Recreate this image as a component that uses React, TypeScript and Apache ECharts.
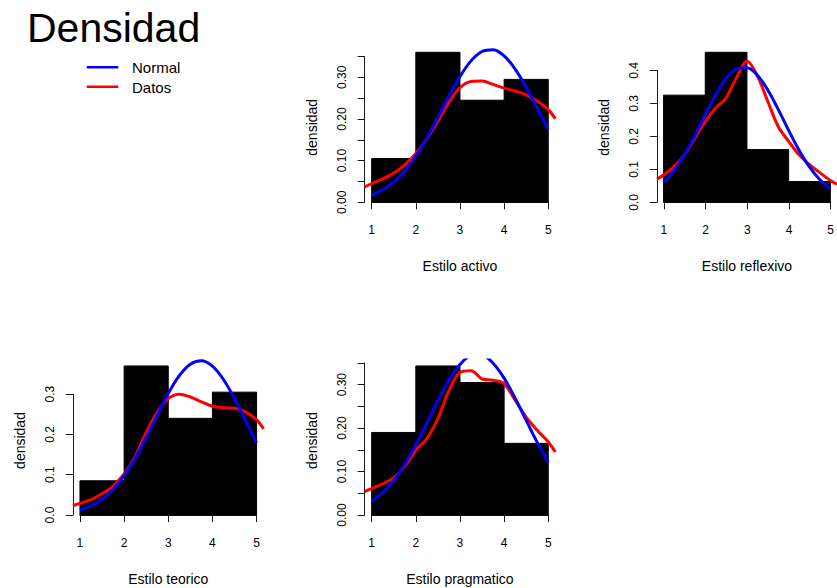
import React, { useEffect, useRef } from "react";
import * as echarts from "echarts";

// ---- data ----
const binEdges = [1, 2, 3, 4, 5];
const xTickLabels = ["1", "2", "3", "4", "5"];

const activoDens = [0.105, 0.36, 0.245, 0.295];
const reflexivoDens = [0.325, 0.455, 0.16, 0.063];
const teoricoDens = [0.085, 0.37, 0.24, 0.305];
const pragmaticoDens = [0.19, 0.343, 0.305, 0.165];

const normalX = [1, 1.25, 1.5, 1.75, 2, 2.25, 2.5, 2.75, 3, 3.25, 3.5, 3.75, 4, 4.25, 4.5, 4.75, 5];
const activoNormal = [0.0176, 0.0301, 0.0491, 0.0759, 0.1112, 0.1545, 0.2036, 0.2545, 0.3018, 0.3394, 0.362, 0.3662, 0.3514, 0.3198, 0.2761, 0.2261, 0.1756];
const reflexivoNormal = [0.0601, 0.0962, 0.1441, 0.2022, 0.2655, 0.3264, 0.3756, 0.4047, 0.4081, 0.3853, 0.3405, 0.2817, 0.2182, 0.1581, 0.1073, 0.0682, 0.0406];
const teoricoNormal = [0.0125, 0.0228, 0.0393, 0.0637, 0.0976, 0.1411, 0.1925, 0.2479, 0.3014, 0.3458, 0.3745, 0.3828, 0.3694, 0.3364, 0.2891, 0.2345, 0.1796];
const pragmaticoNormal = [0.0319, 0.0519, 0.0799, 0.1166, 0.1614, 0.2116, 0.2631, 0.3099, 0.3461, 0.3663, 0.3675, 0.3494, 0.315, 0.269, 0.2178, 0.1672, 0.1216];

const kdeX = [0.84, 1, 1.25, 1.5, 1.75, 2, 2.25, 2.5, 2.75, 3, 3.25, 3.5, 3.75, 4, 4.25, 4.5, 4.75, 5, 5.16];
const activoKde = [0.037, 0.045, 0.056, 0.07, 0.09, 0.117, 0.153, 0.195, 0.24, 0.275, 0.29, 0.291, 0.283, 0.274, 0.267, 0.258, 0.243, 0.222, 0.201];
const reflexivoKde = [0.07, 0.083, 0.108, 0.144, 0.195, 0.245, 0.286, 0.317, 0.378, 0.428, 0.383, 0.306, 0.23, 0.185, 0.144, 0.114, 0.09, 0.066, 0.055];
const teoricoKde = [0.023, 0.029, 0.038, 0.053, 0.072, 0.102, 0.145, 0.205, 0.255, 0.289, 0.3, 0.293, 0.281, 0.27, 0.266, 0.265, 0.256, 0.236, 0.214];
const pragmaticoKde = [0.054, 0.061, 0.072, 0.086, 0.112, 0.149, 0.176, 0.222, 0.286, 0.328, 0.332, 0.313, 0.31, 0.302, 0.264, 0.225, 0.195, 0.168, 0.145];

const activoYLabels = ["0.00", "", "0.10", "", "0.20", "", "0.30", ""];
const reflexivoYLabels = ["0.0", "0.1", "0.2", "0.3", "0.4"];
const teoricoYLabels = ["0.0", "0.1", "0.2", "0.3"];
const pragmaticoYLabels = ["0.00", "", "0.10", "", "0.20", "", "0.30", ""];

const panelNames = ["Estilo activo", "Estilo reflexivo", "Estilo teorico", "Estilo pragmatico"];
const yTitle = "densidad";
const mainTitle = "Densidad";
const legendNames = ["Normal", "Datos"];

// ---- layout ----
const FONT = '"Liberation Sans", Arial, Helvetica, sans-serif';
const pxPerX = 44.15;
const colLefts = [72.9, 364.6, 656.9];
const rowTops = [46.3, 360];
const rowHeights = [162, 161];
const BLUE = "#0000ff";
const RED = "#ff0000";
const AXIS = "#1a1a1a";

const panels = [
  { name: panelNames[0], dens: activoDens, normal: activoNormal, kde: activoKde, yInterval: 0.05, yTickMax: 0.35, yLabels: activoYLabels, row: 0, col: 1 },
  { name: panelNames[1], dens: reflexivoDens, normal: reflexivoNormal, kde: reflexivoKde, yInterval: 0.1, yTickMax: 0.4, yLabels: reflexivoYLabels, row: 0, col: 2 },
  { name: panelNames[2], dens: teoricoDens, normal: teoricoNormal, kde: teoricoKde, yInterval: 0.1, yTickMax: 0.3, yLabels: teoricoYLabels, row: 1, col: 0 },
  { name: panelNames[3], dens: pragmaticoDens, normal: pragmaticoNormal, kde: pragmaticoKde, yInterval: 0.05, yTickMax: 0.35, yLabels: pragmaticoYLabels, row: 1, col: 1 },
];

function buildOption() {
  const grid: any[] = [];
  const xAxis: any[] = [];
  const yAxis: any[] = [];
  const series: any[] = [];
  const hiddenParts = {
    axisLine: { show: false },
    axisTick: { show: false },
    axisLabel: { show: false },
    splitLine: { show: false },
  };
  const nameStyle = { fontFamily: FONT, fontSize: 14, color: "#000" };

  panels.forEach((p, i) => {
    const L = colLefts[p.col];
    const T = rowTops[p.row];
    const Hh = rowHeights[p.row];
    const Wd = 4.32 * pxPerX;
    const ymax = Math.max(...p.dens);
    const yMin = -0.04 * ymax;
    const yMax = 1.04 * ymax;
    const pxPerY = Hh / (yMax - yMin);
    const gData = 2 * i;
    const gAxis = 2 * i + 1;

    grid.push({ left: L, top: T, width: Wd, height: Hh });
    xAxis.push({
      gridIndex: gData, type: "value", min: 0.84, max: 5.16, ...hiddenParts,
      name: p.name, nameLocation: "middle", nameGap: 51, nameTextStyle: nameStyle,
    });
    yAxis.push({
      gridIndex: gData, type: "value", min: yMin, max: yMax, ...hiddenParts,
      name: yTitle, nameLocation: "middle", nameGap: 46, nameTextStyle: nameStyle,
    });

    grid.push({
      left: L + 0.16 * pxPerX,
      top: T + (yMax - p.yTickMax) * pxPerY,
      width: 4 * pxPerX,
      height: p.yTickMax * pxPerY,
    });
    xAxis.push({
      gridIndex: gAxis, type: "value", min: 1, max: 5, interval: 1,
      offset: 0.04 * ymax * pxPerY,
      axisLine: { show: true, lineStyle: { color: AXIS, width: 1 } },
      axisTick: { show: true, length: 7, lineStyle: { color: AXIS, width: 1 } },
      axisLabel: {
        show: true, margin: 16, fontSize: 12, fontFamily: FONT, color: "#000",
        formatter: (v: number) => xTickLabels[Math.round(v - 1)] ?? "",
      },
      splitLine: { show: false },
    });
    yAxis.push({
      gridIndex: gAxis, type: "value", min: 0, max: p.yTickMax, interval: p.yInterval,
      offset: 0.16 * pxPerX,
      axisLine: { show: true, lineStyle: { color: AXIS, width: 1 } },
      axisTick: { show: true, length: 7, lineStyle: { color: AXIS, width: 1 } },
      axisLabel: {
        show: true, margin: 17, rotate: 90, fontSize: 12, fontFamily: FONT, color: "#000",
        formatter: (v: number) => p.yLabels[Math.round(v / p.yInterval)] ?? "",
      },
      splitLine: { show: false },
    });

    series.push({
      type: "custom",
      xAxisIndex: gData,
      yAxisIndex: gData,
      clip: true,
      data: p.dens.map((d, k) => [binEdges[k], binEdges[k + 1], d]),
      encode: { x: [0, 1], y: 2 },
      renderItem: (_params: any, api: any) => {
        const p0 = api.coord([api.value(0), 0]);
        const p1 = api.coord([api.value(1), api.value(2)]);
        return {
          type: "rect",
          shape: { x: p0[0], y: p1[1], width: p1[0] - p0[0], height: p0[1] - p1[1] },
          style: { fill: "#000", stroke: "#000", lineWidth: 1 },
        };
      },
    });
    series.push({
      type: "line",
      name: legendNames[1],
      xAxisIndex: gData,
      yAxisIndex: gData,
      data: kdeX.map((x, k) => [x, p.kde[k]]),
      smooth: 0.35,
      showSymbol: false,
      clip: true,
      lineStyle: { color: RED, width: 3 },
      z: 3,
    });
    series.push({
      type: "line",
      name: legendNames[0],
      xAxisIndex: gData,
      yAxisIndex: gData,
      data: normalX.map((x, k) => [x, p.normal[k]]),
      smooth: 0.35,
      showSymbol: false,
      clip: true,
      lineStyle: { color: BLUE, width: 3 },
      z: 4,
    });
  });

  const graphic = [
    {
      type: "text", x: 27, y: 28,
      style: { text: mainTitle, fontSize: 41, fontFamily: FONT, fill: "#000", align: "left", verticalAlign: "middle" },
    },
    { type: "line", shape: { x1: 86.7, y1: 67.3, x2: 118.3, y2: 67.3 }, style: { stroke: BLUE, lineWidth: 2.5 } },
    { type: "line", shape: { x1: 86.7, y1: 86.7, x2: 118.3, y2: 86.7 }, style: { stroke: RED, lineWidth: 2.5 } },
    {
      type: "text", x: 132, y: 67.5,
      style: { text: legendNames[0], fontSize: 15, fontFamily: FONT, fill: "#000", align: "left", verticalAlign: "middle" },
    },
    {
      type: "text", x: 132, y: 87,
      style: { text: legendNames[1], fontSize: 15, fontFamily: FONT, fill: "#000", align: "left", verticalAlign: "middle" },
    },
  ];

  return {
    animation: false,
    backgroundColor: "#ffffff",
    grid,
    xAxis,
    yAxis,
    series,
    graphic,
  };
}

export default function App() {
  const ref = useRef<HTMLDivElement>(null);
  useEffect(() => {
    if (!ref.current) return;
    const chart = echarts.init(ref.current, null, { renderer: "svg" });
    chart.setOption(buildOption() as any);
    return () => chart.dispose();
  }, []);
  return (
    <div
      ref={ref}
      style={{ position: "absolute", left: 0, top: 0, width: 837, height: 588 }}
    />
  );
}
